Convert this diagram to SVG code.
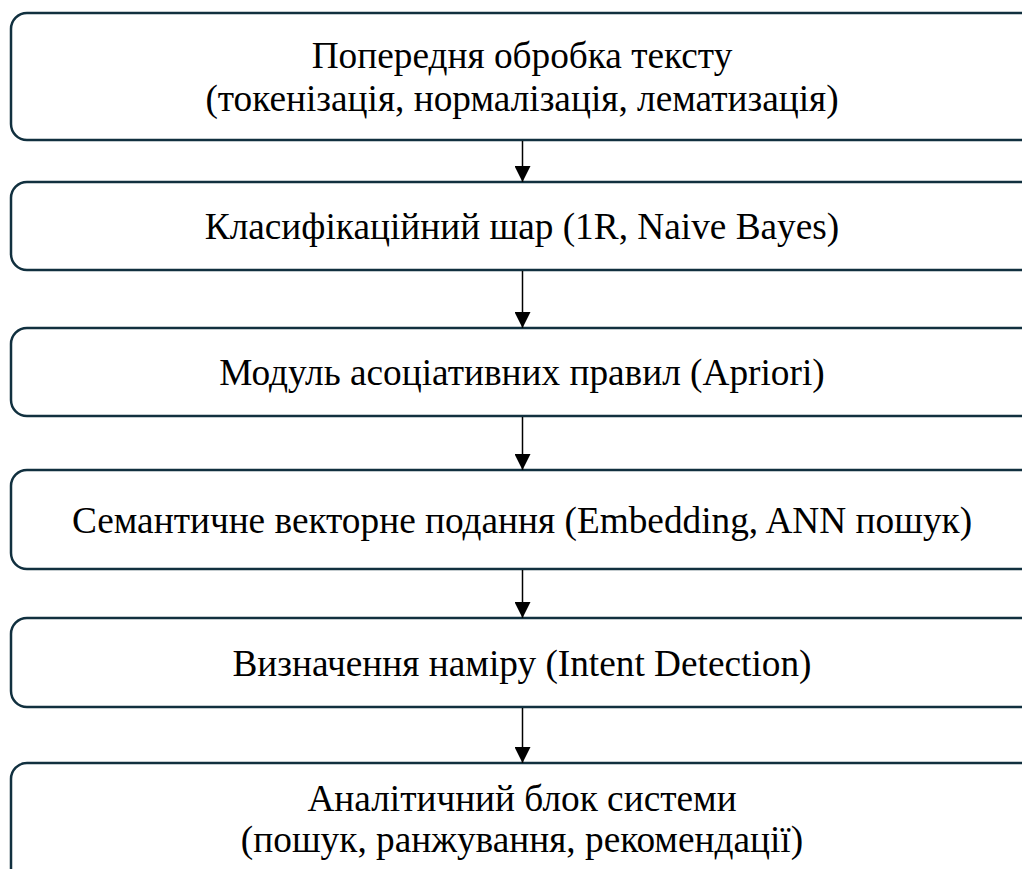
<svg xmlns="http://www.w3.org/2000/svg" width="1022" height="869" viewBox="0 0 1022 869">
  <style>
    .box { fill: #ffffff; stroke: #11303f; stroke-width: 2.5; }
    .label { font-family: "Liberation Serif", "Times New Roman", serif; font-size: 37.3px; fill: #000000; text-anchor: middle; }
    .link { stroke: #000000; stroke-width: 1.5; fill: none; }
  </style>
  <defs>
    <marker id="arrow" viewBox="0 0 16 16" refX="16" refY="8" markerWidth="16" markerHeight="16" markerUnits="userSpaceOnUse" orient="auto">
      <path d="M0,0 L16,8 L0,16 Z" fill="#000000"/>
    </marker>
  </defs>
  <rect width="1022" height="869" fill="#ffffff"/>

  <g id="node-preprocessing">
    <rect class="box" x="11" y="13" width="1030" height="127" rx="16" ry="16"/>
    <text class="label" x="522" y="68">Попередня обробка тексту</text>
    <text class="label" x="522" y="111">(токенізація, нормалізація, лематизація)</text>
  </g>

  <g id="node-classification">
    <rect class="box" x="11" y="182" width="1030" height="88" rx="16" ry="16"/>
    <text class="label" x="522" y="239">Класифікаційний шар (1R, Naive Bayes)</text>
  </g>

  <g id="node-association">
    <rect class="box" x="11" y="328" width="1030" height="88" rx="16" ry="16"/>
    <text class="label" x="522" y="385">Модуль асоціативних правил (Apriori)</text>
  </g>

  <g id="node-embedding">
    <rect class="box" x="11" y="470" width="1030" height="99" rx="16" ry="16"/>
    <text class="label" x="522" y="533">Семантичне векторне подання (Embedding, ANN пошук)</text>
  </g>

  <g id="node-intent">
    <rect class="box" x="11" y="618" width="1030" height="89" rx="16" ry="16"/>
    <text class="label" x="522" y="676">Визначення наміру (Intent Detection)</text>
  </g>

  <g id="node-analytics">
    <rect class="box" x="11" y="763" width="1030" height="140" rx="16" ry="16"/>
    <text class="label" x="522" y="811">Аналітичний блок системи</text>
    <text class="label" x="522" y="852">(пошук, ранжування, рекомендації)</text>
  </g>

  <g id="connectors">
    <line class="link" x1="522.5" y1="141" x2="522.5" y2="182" marker-end="url(#arrow)"/>
    <line class="link" x1="522.5" y1="271" x2="522.5" y2="328" marker-end="url(#arrow)"/>
    <line class="link" x1="522.5" y1="417" x2="522.5" y2="470" marker-end="url(#arrow)"/>
    <line class="link" x1="522.5" y1="570" x2="522.5" y2="618" marker-end="url(#arrow)"/>
    <line class="link" x1="522.5" y1="708" x2="522.5" y2="763" marker-end="url(#arrow)"/>
  </g>
</svg>
